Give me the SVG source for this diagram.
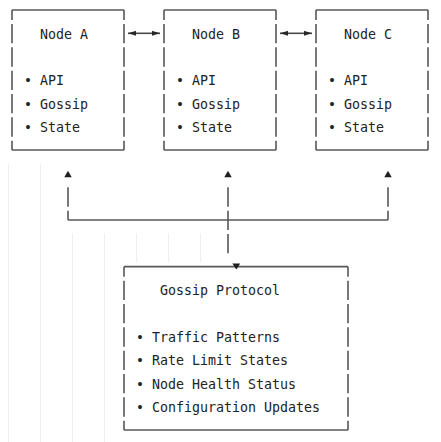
<svg xmlns="http://www.w3.org/2000/svg" width="441" height="442" viewBox="0 0 441 442">
  <style>
    .bg { fill: #ffffff; }
    .guide { stroke: #eeeef1; stroke-width: 1; }
    .h { stroke: #575757; stroke-width: 1.6; fill: none; }
    .v { stroke: #575757; stroke-width: 1.6; fill: none; stroke-dasharray: 19.33 4; stroke-dashoffset: 9.33; }
    .vc { stroke: #575757; stroke-width: 1.6; fill: none; stroke-dasharray: 19.33 4; }
    .arrow { stroke: #4a4a4a; stroke-width: 1.6; fill: none; }
    .tri { fill: #1e1e1e; }
    .t { font-family: "DejaVu Sans Mono", "Liberation Mono", monospace; font-size: 13.3px; fill: #222222; }
  </style>
  <defs>
    <marker id="ah" viewBox="0 0 8 5" refX="8" refY="2.5" markerUnits="userSpaceOnUse" markerWidth="8.5" markerHeight="5" orient="auto-start-reverse">
      <path d="M0 0 L8 2.5 L0 5 z" fill="#2a2a2a"/>
    </marker>
  </defs>
  <rect class="bg" x="0" y="0" width="441" height="442"/>

  <g id="guides">
    <line class="guide" x1="8.5" y1="163.3" x2="8.5" y2="442"/>
    <line class="guide" x1="40.5" y1="163.3" x2="40.5" y2="442"/>
    <line class="guide" x1="72.5" y1="233.3" x2="72.5" y2="442"/>
    <line class="guide" x1="104.5" y1="233.3" x2="104.5" y2="442"/>
    <line class="guide" x1="136.5" y1="233.3" x2="136.5" y2="262"/>
    <line class="guide" x1="168.5" y1="233.3" x2="168.5" y2="262"/>
    <line class="guide" x1="200.5" y1="233.3" x2="200.5" y2="262"/>
  </g>

  <g id="node-a">
    <line class="h" x1="12" y1="10" x2="124" y2="10"/>
    <line class="h" x1="12" y1="150" x2="124" y2="150"/>
    <line class="v" x1="12" y1="10" x2="12" y2="150"/>
    <line class="v" x1="124" y1="10" x2="124" y2="150"/>
    <text class="t" x="40" y="38.8">Node A</text>
    <text class="t" x="24" y="85.3">• API</text>
    <text class="t" x="24" y="108.6">• Gossip</text>
    <text class="t" x="24" y="132">• State</text>
  </g>

  <g id="node-b">
    <line class="h" x1="164" y1="10" x2="276" y2="10"/>
    <line class="h" x1="164" y1="150" x2="276" y2="150"/>
    <line class="v" x1="164" y1="10" x2="164" y2="150"/>
    <line class="v" x1="276" y1="10" x2="276" y2="150"/>
    <text class="t" x="192" y="38.8">Node B</text>
    <text class="t" x="176" y="85.3">• API</text>
    <text class="t" x="176" y="108.6">• Gossip</text>
    <text class="t" x="176" y="132">• State</text>
  </g>

  <g id="node-c">
    <line class="h" x1="316" y1="10" x2="428" y2="10"/>
    <line class="h" x1="316" y1="150" x2="428" y2="150"/>
    <line class="v" x1="316" y1="10" x2="316" y2="150"/>
    <line class="v" x1="428" y1="10" x2="428" y2="150"/>
    <text class="t" x="344" y="38.8">Node C</text>
    <text class="t" x="328" y="85.3">• API</text>
    <text class="t" x="328" y="108.6">• Gossip</text>
    <text class="t" x="328" y="132">• State</text>
  </g>

  <g id="gossip-protocol">
    <line class="h" x1="124" y1="266.67" x2="348" y2="266.67"/>
    <line class="h" x1="124" y1="430" x2="348" y2="430"/>
    <line class="v" x1="124" y1="266.67" x2="124" y2="430"/>
    <line class="v" x1="348" y1="266.67" x2="348" y2="430"/>
    <text class="t" x="160" y="295.3">Gossip Protocol</text>
    <text class="t" x="136" y="342">• Traffic Patterns</text>
    <text class="t" x="136" y="365.3">• Rate Limit States</text>
    <text class="t" x="136" y="388.6">• Node Health Status</text>
    <text class="t" x="136" y="412">• Configuration Updates</text>
  </g>

  <g id="connectors">
    <line class="arrow" x1="128" y1="33.3" x2="160" y2="33.3" marker-start="url(#ah)" marker-end="url(#ah)"/>
    <line class="arrow" x1="280" y1="33.3" x2="312" y2="33.3" marker-start="url(#ah)" marker-end="url(#ah)"/>
    <polygon class="tri" points="64.3,177.3 71.7,177.3 68,170.7"/>
    <polygon class="tri" points="224.3,177.3 231.7,177.3 228,170.7"/>
    <polygon class="tri" points="384.3,177.3 391.7,177.3 388,170.7"/>
    <line class="vc" x1="68" y1="187.33" x2="68" y2="220"/>
    <line class="vc" x1="388" y1="187.33" x2="388" y2="220"/>
    <line class="vc" x1="228" y1="187.33" x2="228" y2="253.33"/>
    <line class="h" x1="68" y1="220" x2="388" y2="220"/>
    <polygon class="tri" points="232.4,263.5 240.2,263.5 236.3,269.5"/>
  </g>
</svg>
